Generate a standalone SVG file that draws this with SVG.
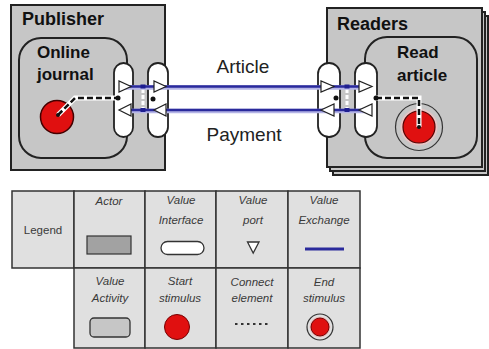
<svg xmlns="http://www.w3.org/2000/svg" width="489" height="349" viewBox="0 0 489 349">
<style>
.box{fill:#c6c6c6;stroke:#222;stroke-width:2}
.pill{fill:#fff;stroke:#222;stroke-width:1.8}
.port{fill:#fff;stroke:#222;stroke-width:1.2}
.lbl{font-family:"Liberation Sans",Arial,sans-serif;font-weight:bold;font-size:17px;fill:#111}
.act{font-family:"Liberation Sans",Arial,sans-serif;font-weight:bold;font-size:18px;fill:#111}
.ex{font-family:"Liberation Sans",Arial,sans-serif;font-size:19px;fill:#222}
.halo{stroke:#b4b4e6;stroke-width:4.5;fill:none}
.vx{stroke:#2a2a9c;stroke-width:2.5;fill:none}
.dashw{stroke:#fff;stroke-width:5;fill:none}
.dashb{stroke:#111;stroke-width:2.5;stroke-dasharray:6,3;fill:none}
.dot{fill:#111}
.sq{fill:#1e1e90}
.cell{fill:#e0e0e0;stroke:#333;stroke-width:1.5}
.lt{font-family:"Liberation Sans",Arial,sans-serif;font-style:italic;font-size:11.5px;fill:#3a3a3a;text-anchor:middle}
</style>
<g id="publisher">
<rect class="box" x="11" y="5" width="154" height="165"/>
<text class="act" x="22" y="25">Publisher</text>
</g>
<g id="online-journal">
<rect class="box" x="19" y="38" width="108" height="120" rx="22"/>
<text class="lbl" x="37" y="58">Online</text>
<text class="lbl" x="37" y="80">journal</text>
</g>
<g id="readers">
<rect class="box" x="333" y="16" width="155" height="159"/>
<rect class="box" x="330" y="12" width="155" height="159"/>
<rect class="box" x="327" y="8" width="155" height="159"/>
<text class="act" x="337" y="30">Readers</text>
</g>
<g id="read-article">
<rect class="box" x="365" y="37" width="112" height="121" rx="22"/>
<text class="lbl" x="397" y="58">Read</text>
<text class="lbl" x="397" y="81">article</text>
</g>
<g id="start-stimulus">
<circle cx="57" cy="117" r="16.5" fill="#e01010" stroke="#400" stroke-width="1.5"/>
</g>
<g id="end-stimulus">
<circle cx="419" cy="127" r="23.5" fill="#c6c6c6" stroke="#333" stroke-width="1.2"/>
<circle cx="419" cy="127" r="18.5" fill="#e8c4c4"/>
<circle cx="419" cy="127" r="16" fill="#e01010" stroke="#500" stroke-width="1.2"/>
</g>
<g id="interface-publisher-1"><rect class="pill" x="114" y="63" width="19" height="74" rx="9.5"/></g>
<g id="interface-publisher-2"><rect class="pill" x="148" y="63" width="20" height="74" rx="10"/></g>
<g id="interface-readers-1"><rect class="pill" x="318" y="63" width="22" height="74" rx="11"/></g>
<g id="interface-readers-2"><rect class="pill" x="355" y="63" width="22" height="74" rx="11"/></g>
<g id="connectors">
<line x1="143" y1="89" x2="143" y2="108" stroke="#fff" stroke-width="3" stroke-dasharray="4,2"/>
<line x1="347" y1="89" x2="347" y2="108" stroke="#fff" stroke-width="3" stroke-dasharray="4,2"/>
<polyline class="dashw" points="58,115 75,98 118,98"/>
<polyline class="dashb" points="58,115 75,98 118,98"/>
<polyline class="dashw" points="376,98 419,98 419,127"/>
<polyline class="dashb" points="376,98 419,98 419,127"/>
<line class="halo" x1="125" y1="87.5" x2="365" y2="87.5"/>
<line class="halo" x1="125" y1="111" x2="365" y2="111"/>
<line class="vx" x1="125" y1="86.5" x2="365" y2="86.5"/>
<line class="vx" x1="125" y1="110" x2="365" y2="110"/>
<rect class="sq" x="140.5" y="84.5" width="5" height="4"/>
<rect class="sq" x="140.5" y="108" width="5" height="4"/>
<rect class="sq" x="344.5" y="84.5" width="5" height="4"/>
<rect class="sq" x="344.5" y="108" width="5" height="4"/>
<circle class="dot" cx="58" cy="115" r="2"/>
<circle class="dot" cx="419" cy="127" r="2"/>
<text class="ex" x="243" y="73" text-anchor="middle">Article</text>
<text class="ex" x="244" y="141" text-anchor="middle">Payment</text>
</g>
<g id="ports">
<polygon class="port" points="119,81 119,92 131,86.5"/>
<polygon class="port" points="131,104 131,116 119,110"/>
<polygon class="port" points="154,81 154,92 166,86.5"/>
<polygon class="port" points="166,104 166,116 154,110"/>
<polygon class="port" points="321,81 321,92 334,86.5"/>
<polygon class="port" points="334,104 334,116 321,110"/>
<polygon class="port" points="359,81 359,92 372,86.5"/>
<polygon class="port" points="372,104 372,116 359,110"/>
<circle class="dot" cx="118" cy="98" r="2.5"/>
<circle class="dot" cx="153" cy="99" r="2.5"/>
<circle class="dot" cx="336" cy="98" r="2.5"/>
<circle class="dot" cx="376" cy="98" r="2.5"/>
</g>
<g id="legend">
<rect class="cell" x="12" y="191" width="62" height="77"/>
<rect class="cell" x="74" y="191" width="71" height="77"/>
<rect class="cell" x="145" y="191" width="71" height="77"/>
<rect class="cell" x="216" y="191" width="72" height="77"/>
<rect class="cell" x="288" y="191" width="72" height="77"/>
<rect class="cell" x="74" y="268" width="71" height="80"/>
<rect class="cell" x="145" y="268" width="71" height="80"/>
<rect class="cell" x="216" y="268" width="72" height="80"/>
<rect class="cell" x="288" y="268" width="72" height="80"/>
<text class="lt" x="43" y="234" style="font-style:normal">Legend</text>
<text class="lt" x="109" y="205">Actor</text>
<rect x="87" y="236" width="44" height="18" fill="#a2a2a2" stroke="#333" stroke-width="1.2"/>
<text class="lt" x="181" y="204">Value</text>
<text class="lt" x="181" y="224">Interface</text>
<rect x="161" y="241.5" width="43" height="13" rx="6.5" fill="#fff" stroke="#333" stroke-width="1.3"/>
<text class="lt" x="253" y="204">Value</text>
<text class="lt" x="253" y="224">port</text>
<polygon points="247.5,242 259,242 253.2,253" fill="#fff" stroke="#333" stroke-width="1.3"/>
<text class="lt" x="324" y="204">Value</text>
<text class="lt" x="324" y="224">Exchange</text>
<line x1="305" y1="249" x2="344" y2="249" stroke="#2a2a9c" stroke-width="3"/>
<text class="lt" x="110" y="285">Value</text>
<text class="lt" x="110" y="302">Activity</text>
<rect x="90" y="318" width="40" height="19" rx="4" fill="#c6c6c6" stroke="#333" stroke-width="1.3"/>
<text class="lt" x="180" y="285">Start</text>
<text class="lt" x="180" y="302">stimulus</text>
<circle cx="177" cy="327" r="12.5" fill="#e01010" stroke="#700" stroke-width="1"/>
<text class="lt" x="252" y="286">Connect</text>
<text class="lt" x="252" y="302">element</text>
<line x1="235" y1="324" x2="270" y2="324" stroke="#333" stroke-width="2" stroke-dasharray="2.5,3.5"/>
<text class="lt" x="324" y="286">End</text>
<text class="lt" x="324" y="302">stimulus</text>
<circle cx="320" cy="327" r="13" fill="#e0e0e0" stroke="#333" stroke-width="1.2"/>
<circle cx="320" cy="327" r="10.5" fill="#e8c4c4"/>
<circle cx="320" cy="327" r="9" fill="#e01010" stroke="#700" stroke-width="1"/>
</g>
</svg>
